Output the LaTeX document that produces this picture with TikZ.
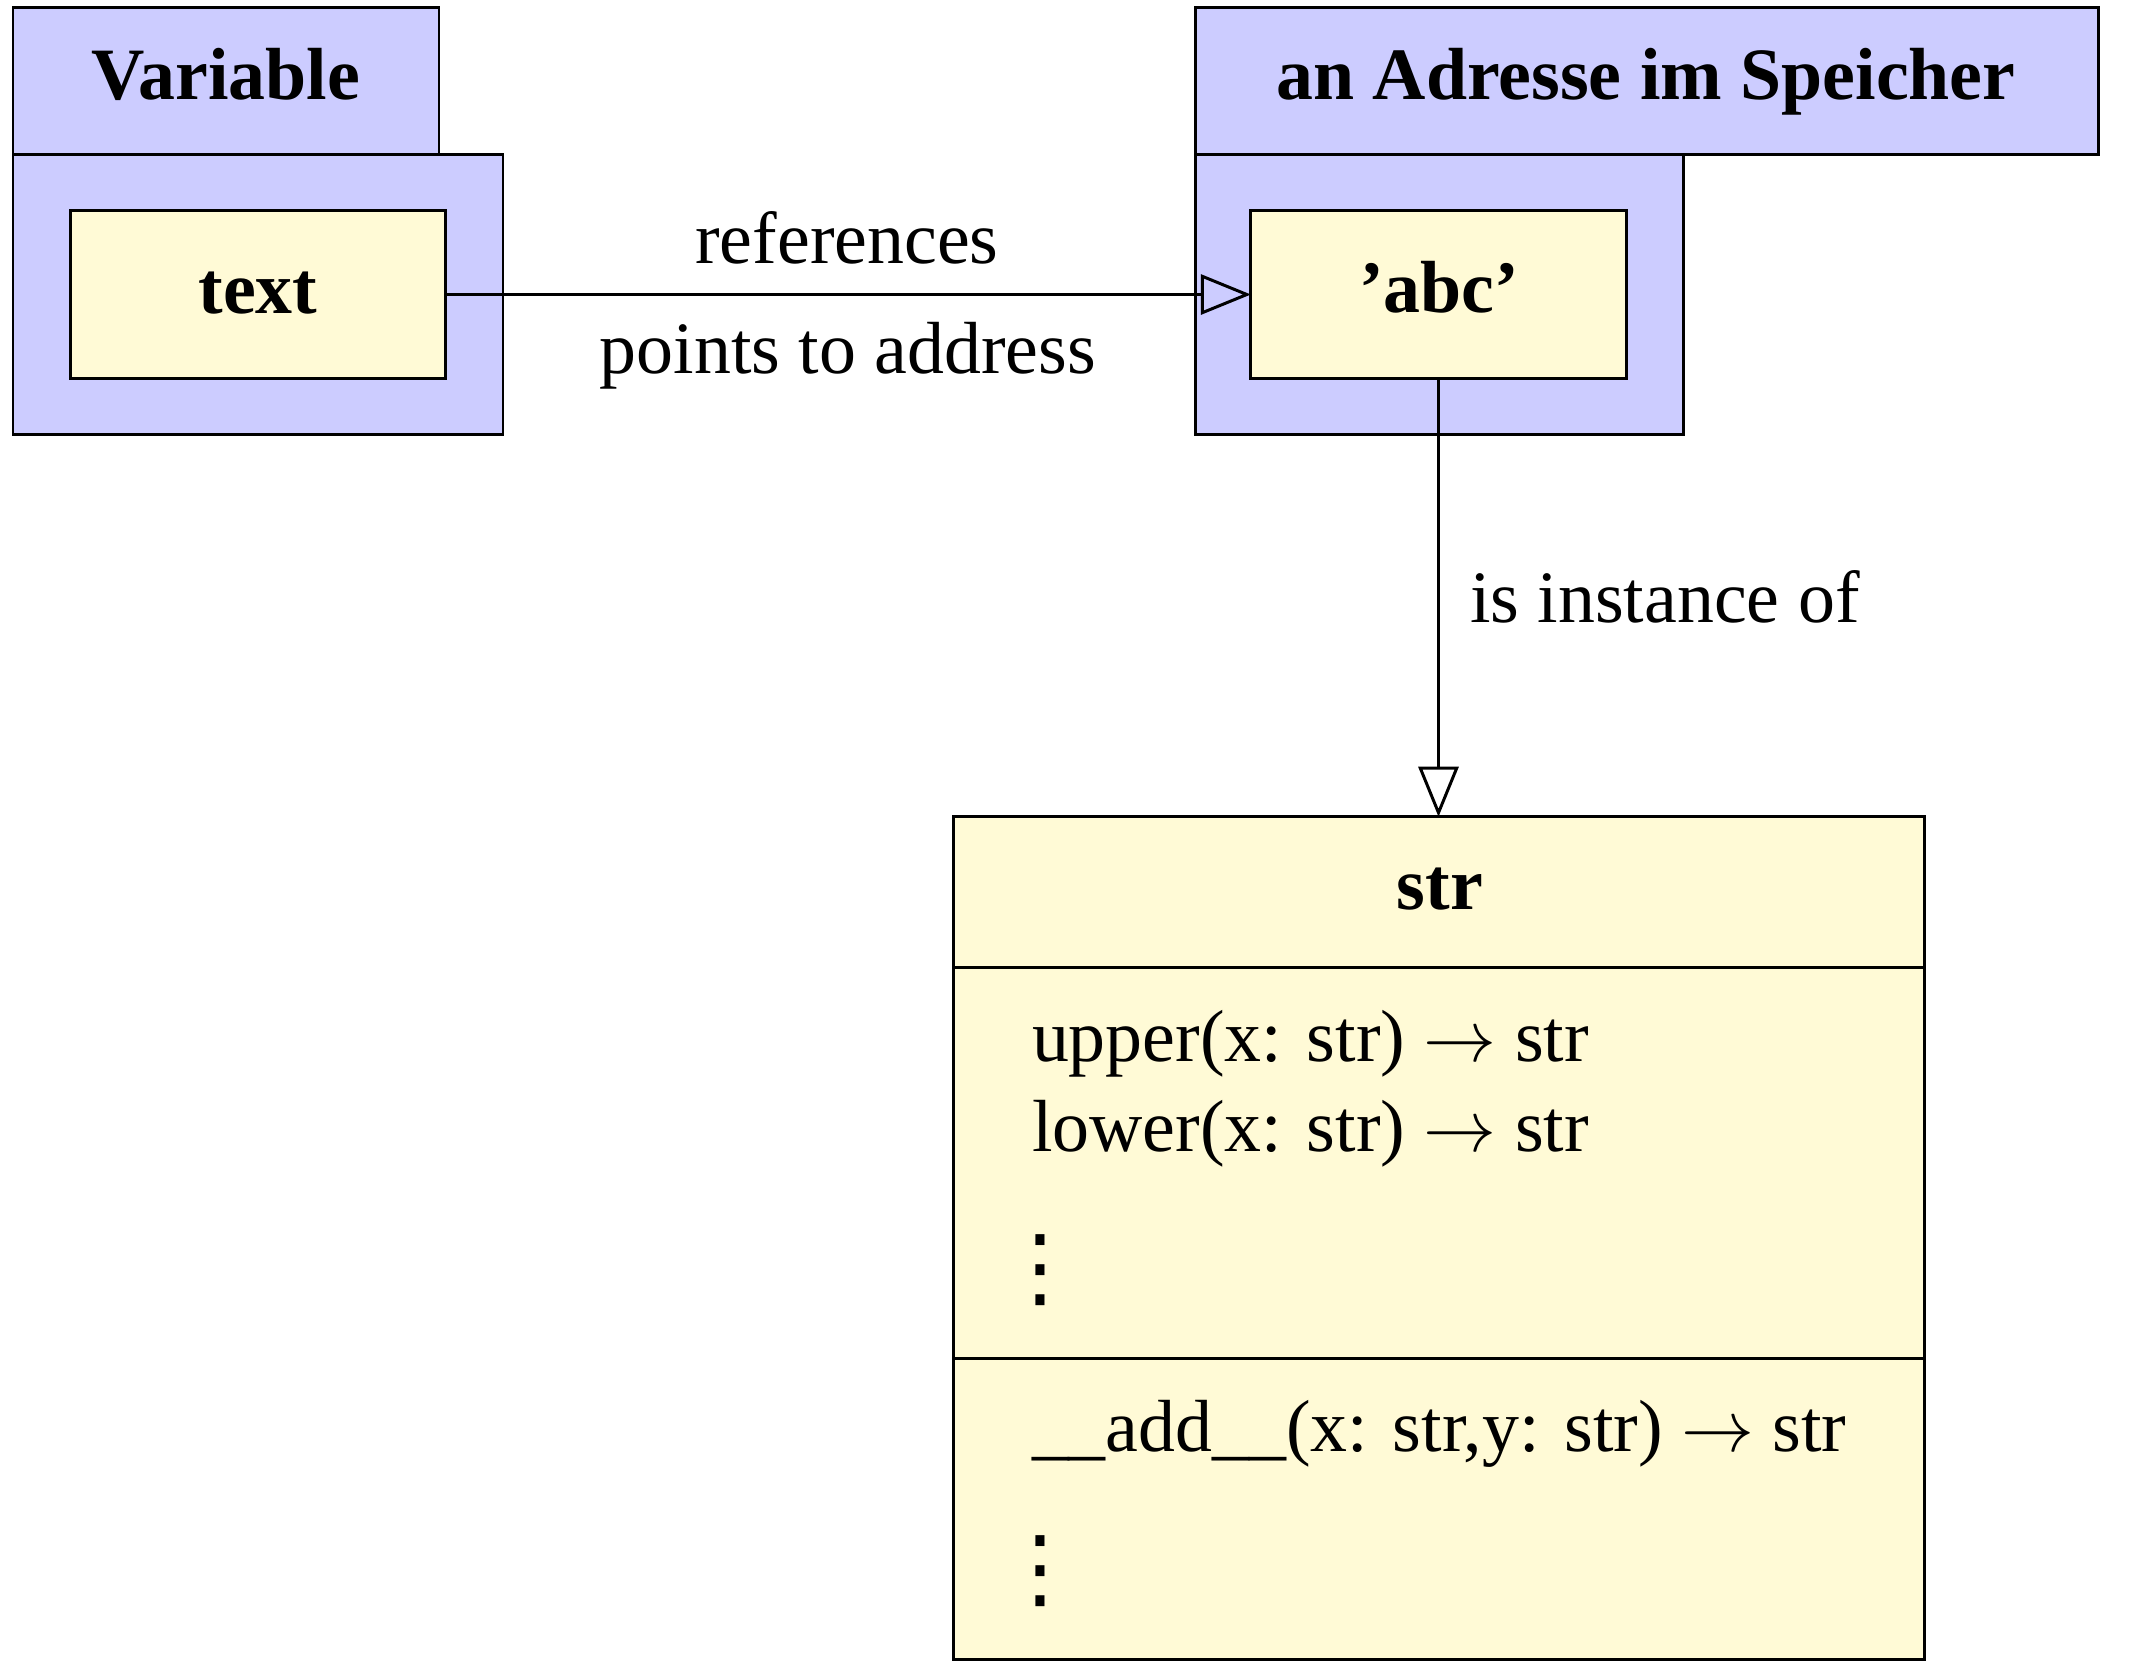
\documentclass[tikz,border=0pt]{standalone}
\usepackage{fontspec}
\setmainfont{Liberation Serif}
\newfontfamily\dotsfont{DejaVu Sans}
\usetikzlibrary{arrows.meta}
\definecolor{boxblue}{HTML}{CCCCFF}
\definecolor{boxyellow}{HTML}{FFFAD6}
\begin{document}
\begin{tikzpicture}[x=0.01cm,y=-0.01cm,line width=0.85pt,
  bluebox/.style={draw=black,fill=boxblue},
  yellowbox/.style={draw=black,fill=boxyellow,inner sep=0pt,outer sep=0pt},
  lbl/.style={inner sep=0pt,outer sep=0pt,font=\fontsize{21}{25}\selectfont},
  blbl/.style={lbl,font=\fontsize{21}{25}\selectfont\bfseries},
  vdotslbl/.style={inner sep=0pt,outer sep=0pt,font=\dotsfont\fontsize{25}{30}\selectfont},
  openarrow/.style={-{Triangle[open,length=0.5cm,width=0.4cm]}}]
\useasboundingbox (0,0) rectangle (2129,1672);
% containers
\draw[bluebox] (13,154) rectangle (503,434);
\draw[bluebox] (13,7) rectangle (439,154);
\draw[bluebox] (1195,154) rectangle (1683,434);
\draw[bluebox] (1195,7) rectangle (2098,154);
% inner boxes
\node[yellowbox,minimum width=3.74cm,minimum height=1.67cm] (textbox) at (258,294.5) {};
\node[yellowbox,minimum width=3.75cm,minimum height=1.67cm] (abcbox) at (1438.5,294.5) {};
\node[yellowbox,minimum width=9.70cm,minimum height=8.42cm] (strbox) at (1439,1238) {};
\draw (strbox.west |- 0,967) -- (strbox.east |- 0,967);
\draw (strbox.west |- 0,1358) -- (strbox.east |- 0,1358);
% connectors
\draw[openarrow] (textbox.east) -- (abcbox.west);
\draw[openarrow] (abcbox.south) -- (abcbox.south |- strbox.north);
% texts
\node[blbl,anchor=base] (vartitle) at (226,99) {Variable};
\node[blbl,anchor=base] (addrtitle) at (1646,99) {an Adresse im Speicher};
\node[blbl,anchor=base] (textlbl) at (258,313) {text};
\node[blbl,anchor=base] (abclbl) at (1439,312) {'abc'};
\node[lbl,anchor=base] (refs) at (847,263) {references};
\node[lbl,anchor=base] (points) at (848,373) {points to address};
\node[lbl,anchor=base west] (inst) at (1470,622) {is instance of};
\node[blbl,anchor=base] (strtitle) at (1440,909) {str};
\node[lbl,anchor=base west] (m1) at (1032,1061) {upper(x: str) $\rightarrow$ str};
\node[lbl,anchor=base west] (m2) at (1032,1151) {lower(x: str) $\rightarrow$ str};
\node[vdotslbl,anchor=base] (d1) at (1040,1297) {⋮};
\node[lbl,anchor=base west] (m3) at (1032,1451) {\_\_add\_\_(x: str,y: str) $\rightarrow$ str};
\node[vdotslbl,anchor=base] (d2) at (1040,1598) {⋮};
\end{tikzpicture}
\end{document}
